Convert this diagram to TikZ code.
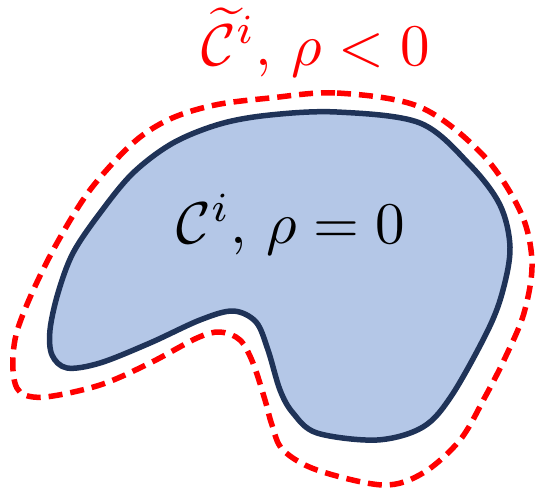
\documentclass[tikz,border=0pt]{standalone}
\usepackage{amsmath}
\definecolor{fillblue}{HTML}{B4C7E7}
\definecolor{navy}{HTML}{1F3358}
\definecolor{dred}{HTML}{FF0000}
\tikzset{
  innershape/.style={draw=navy, fill=fillblue, line width=5.5pt, line join=round},
  outershape/.style={draw=dred, line width=5.5pt, dash pattern=on 14pt off 8pt},
  biglabel/.style={scale=5.9, inner sep=0pt}
}
\begin{document}
\begin{tikzpicture}[x=1pt,y=-1pt]
\useasboundingbox (0,0) rectangle (536,491);
\draw[innershape] plot[smooth cycle, tension=0.55] coordinates {
 (270,115) (337,112) (420,123) (470,165) (500,205) (510,247) (503,290) (488,330)
 (452,395) (423,427) (377,440) (317,433) (293,413) (280,390) (268,350) (256,322)
 (233,311) (200,320) (150,343) (100,363) (67,368) (52,355) (50,330) (58,293)
 (73,253) (100,213) (133,173) (173,143) (220,124)};
\draw[outershape] plot[smooth cycle, tension=0.55] coordinates {
 (270,98) (337,93) (420,107) (483,155) (521,213) (532,263) (524,313) (505,358)
 (485,397) (460,440) (423,473) (383,485) (317,470) (283,450) (272,425) (265,400)
 (253,363) (240,340) (220,332) (197,338) (150,363) (100,385) (45,397) (20,392)
 (13,370) (16,335) (32,293) (57,243) (90,190) (133,143) (170,119) (215,105)};
\node[biglabel, anchor=base] (inner) at (291,243) {$\mathcal{C}^i,\,\rho = 0$};
\node[biglabel, anchor=base, text=dred] (outer) at (316,65) {$\widetilde{\mathcal{C}}^i,\,\rho < 0$};
\end{tikzpicture}
\end{document}
